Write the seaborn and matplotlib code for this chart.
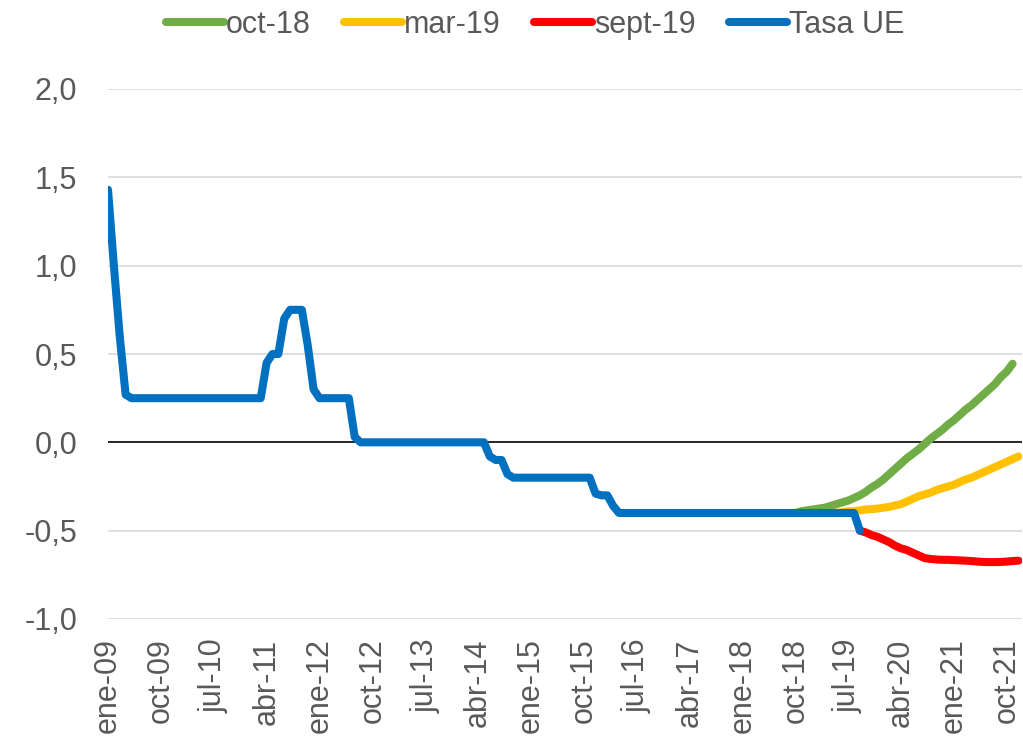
import numpy as np
import pandas as pd
import matplotlib
matplotlib.use("Agg")
import matplotlib.pyplot as plt
import seaborn as sns

# monthly series, month 0 = ene-09
tasa_ue = ([1.43, 1.0, 0.6, 0.27] + [0.25] * 23 +
           [0.45, 0.5, 0.5, 0.7, 0.75, 0.75, 0.75, 0.55, 0.3] + [0.25] * 6 +
           [0.03] + [0.0] * 22 + [-0.08, -0.1, -0.1, -0.18] + [-0.2] * 14 +
           [-0.29, -0.3, -0.3, -0.36] + [-0.4] * 41 + [-0.5])

# forecast curves (start month, values)
oct18_start = 117
oct18 = [-0.40, -0.39, -0.385, -0.38, -0.375, -0.37, -0.36, -0.35, -0.34, -0.33,
         -0.315, -0.30, -0.28, -0.255, -0.235, -0.21, -0.18, -0.15, -0.12, -0.09,
         -0.065, -0.04, -0.01, 0.02, 0.045, 0.07, 0.10, 0.125, 0.155, 0.185,
         0.21, 0.24, 0.27, 0.30, 0.33, 0.37, 0.40, 0.445]

mar19_start = 123
mar19 = [-0.40, -0.40, -0.395, -0.39, -0.39, -0.385, -0.38, -0.378, -0.375, -0.37,
         -0.365, -0.357, -0.35, -0.335, -0.32, -0.305, -0.295, -0.285, -0.27, -0.26,
         -0.25, -0.24, -0.225, -0.21, -0.20, -0.185, -0.17, -0.155, -0.14, -0.125,
         -0.11, -0.095, -0.08]

sep19_start = 128
sep19 = [-0.50, -0.51, -0.525, -0.535, -0.55, -0.565, -0.585, -0.60, -0.61, -0.625,
         -0.64, -0.655, -0.66, -0.663, -0.665, -0.665, -0.667, -0.668, -0.67, -0.672,
         -0.675, -0.677, -0.678, -0.678, -0.677, -0.675, -0.672, -0.67]

meses = ['ene', 'feb', 'mar', 'abr', 'may', 'jun', 'jul', 'ago', 'sept', 'oct', 'nov', 'dic']
n_months = 156
tick_step = 9

rows = []
for name, start, vals in [('oct-18', oct18_start, oct18),
                          ('mar-19', mar19_start, mar19),
                          ('sept-19', sep19_start, sep19),
                          ('Tasa UE', 0, tasa_ue)]:
    for i, v in enumerate(vals):
        rows.append({'mes': start + i, 'valor': v, 'serie': name})
df = pd.DataFrame(rows)

palette = {'oct-18': '#70AD47', 'mar-19': '#FFC000', 'sept-19': '#FF0000', 'Tasa UE': '#0070C0'}

sns.set_theme(style='white')
plt.rcParams['font.family'] = ['Liberation Sans', 'DejaVu Sans']

fig = plt.figure(figsize=(10.23, 7.39), dpi=100)
ax = fig.add_axes([108 / 1023, 120 / 739, 914 / 1023, 530 / 739])

sns.lineplot(data=df, x='mes', y='valor', hue='serie',
             hue_order=['oct-18', 'mar-19', 'sept-19', 'Tasa UE'],
             palette=palette, linewidth=5.8, ax=ax, legend=True,
             solid_capstyle='round', solid_joinstyle='round')

ax.set_xlim(0, 155.6)
ax.set_ylim(-1.0, 2.0)
yticks = [-1.0, -0.5, 0.0, 0.5, 1.0, 1.5, 2.0]
ax.set_yticks(yticks)
ax.set_yticklabels([f'{t:.1f}'.replace('.', ',') for t in yticks])
for t in yticks:
    if t == 0:
        ax.axhline(t, color='black', lw=1.2, zorder=1)
    else:
        ax.axhline(t, color='#D9D9D9', lw=1.2, zorder=0)

xt = list(range(0, n_months, tick_step))
ax.set_xticks(xt)
ax.set_xticklabels([f"{meses[m % 12]}-{(9 + m // 12):02d}" for m in xt], rotation=90)

ax.tick_params(axis='both', length=0, labelsize=22, colors='#595959')
ax.tick_params(axis='y', pad=22)
ax.tick_params(axis='x', pad=14)
ax.set_xlabel('')
ax.set_ylabel('')
for s in ax.spines.values():
    s.set_visible(False)

handles, labels = ax.get_legend_handles_labels()
ax.get_legend().remove()
leg = fig.legend(handles, labels, loc='center', bbox_to_anchor=(0.523, 0.966),
                 ncol=4, frameon=False, fontsize=22, handlelength=1.9,
                 handletextpad=0.05, columnspacing=1.1, borderaxespad=0)
for t in leg.get_texts():
    t.set_color('#595959')
for h in leg.get_lines():
    h.set_linewidth(5.8)
    h.set_solid_capstyle('round')

fig.savefig('out.png', dpi=100)
